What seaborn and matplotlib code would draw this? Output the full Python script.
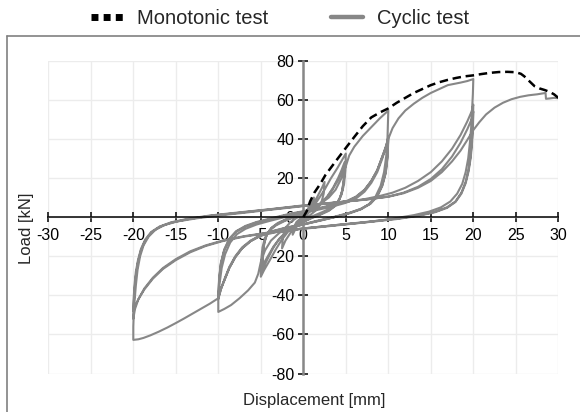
import matplotlib
matplotlib.use("Agg")
import matplotlib.pyplot as plt
from matplotlib.lines import Line2D
import seaborn as sns
import pandas as pd

# ---------------- data (displacement [mm], load [kN]) ----------------
monotonic = [(0, 0), (0.4, 3), (0.8, 8), (1.3, 12.5), (2.0, 17), (2.6, 21.5), (3.2, 25),
             (3.8, 28.5), (4.5, 32.5), (5.2, 36.5), (6.0, 41), (7.0, 46.5), (8.0, 51),
             (9.0, 53.5), (10, 55.6), (11, 58.5), (12, 61), (13, 63.5), (14, 65.5),
             (15, 67.5), (16, 69), (17, 70.2), (18, 71.2), (19, 72), (20, 72.5), (21, 73.2),
             (22, 73.8), (23, 74.2), (24, 74.3), (25, 74.1), (25.6, 73.3), (26.0, 72),
             (26.6, 69.5), (27.2, 67), (27.8, 65.8), (28.4, 65), (29.0, 64), (29.5, 62.8),
             (30, 61)]

cyc_small = [(0, 0), (0.4, 3), (0.8, 6.5), (1.25, 10), (1.15, 6), (0.8, 3), (0.3, 0.5),
             (-0.3, -1.5), (-0.8, -5), (-1.25, -9), (-1.15, -5.5), (-0.8, -2.5), (-0.3, -0.5),
             (0.3, 1.5), (0.9, 5), (1.6, 10), (2.2, 15), (2.5, 18), (2.4, 12), (2.1, 7),
             (1.5, 3.5), (0.8, 1), (0, -1.5), (-0.8, -4), (-1.5, -8), (-2.1, -12), (-2.5, -16),
             (-2.4, -10), (-2.1, -5.5), (-1.5, -2.5), (-0.8, -0.5), (0, 1.5)]

cyc_5 = [(0.8, 4), (1.6, 8), (2.5, 14), (3.2, 19.5), (4.0, 25), (4.6, 29.5), (5.0, 32.5),
         (4.95, 24), (4.8, 17), (4.5, 11.5), (4.0, 7.5), (3.2, 4.5), (2.2, 2.5), (1.0, 0.3),
         (0, -1.8), (-1.0, -4.2), (-1.8, -7.5), (-2.6, -12), (-3.3, -17), (-4.0, -22.5),
         (-4.6, -27), (-5.0, -30.5),
         (-4.95, -22), (-4.8, -15.5), (-4.5, -10.5), (-4.0, -7), (-3.2, -4.2), (-2.2, -2),
         (-1.0, 0), (0, 2),
         (1, 4.2), (2, 7), (2.8, 10.5), (3.5, 15), (4.1, 20), (4.5, 24), (4.85, 28),
         (4.8, 20), (4.6, 14), (4.3, 9.5), (3.8, 6), (3, 3.5), (2, 1.5), (1, -0.3), (0, -2.3),
         (-1, -4.5), (-2, -7.5), (-2.8, -11), (-3.5, -15.5), (-4.1, -20.5), (-4.5, -24),
         (-4.85, -27.5),
         (-4.8, -19.5), (-4.6, -13.5), (-4.3, -9), (-3.8, -5.8), (-3, -3.3), (-2, -1.3),
         (-1, 0.5), (0, 2.3),
         (1, 4.3), (2, 6.8), (2.8, 10), (3.5, 14.5), (4.1, 19), (4.5, 22.5), (4.8, 26),
         (4.75, 18.5), (4.55, 13), (4.25, 9), (3.7, 5.5), (3, 3.2), (2, 1.2), (1, -0.5),
         (0, -2.5), (-1, -4.6), (-2, -7.6), (-2.8, -11), (-3.5, -15), (-4.1, -19.5),
         (-4.5, -22.5), (-4.8, -25.5),
         (-4.75, -18), (-4.55, -12.5), (-4.25, -8.5), (-3.7, -5.3), (-3, -3), (-2, -1),
         (-1, 0.8), (0, 2.5)]

cyc_10 = [(1, 4.5), (2, 6.8), (3, 10), (3.8, 14), (4.5, 20), (5, 26), (5.4, 31.5), (6, 36),
          (7, 41.5), (8, 46), (9, 50.5), (10, 54.5),
          (9.95, 47), (9.9, 40), (9.75, 31), (9.5, 23), (9.1, 16), (8.5, 10.5), (7.7, 6.5),
          (6.7, 4), (5.5, 2.2), (4, 0.3), (2, -1.8), (0, -3.8), (-1.5, -5.5), (-2.8, -8),
          (-3.8, -12), (-4.5, -17), (-5, -23), (-5.3, -29), (-5.7, -33.5), (-6.5, -37.5),
          (-7.5, -41.5), (-8.5, -45), (-9.3, -47), (-10, -48.5),
          (-10, -42), (-9.85, -34), (-9.6, -26), (-9.2, -19), (-8.6, -13), (-7.8, -8.7),
          (-6.8, -6), (-5.5, -3.8), (-4, -2), (-2, 0.2), (0, 2.2), (2, 4), (3.5, 5.5),
          (5, 7.3), (6.2, 9.5), (7.2, 13), (8, 17.5), (8.7, 23), (9.3, 30), (9.7, 35.5),
          (10, 41),
          (9.9, 31), (9.7, 23), (9.3, 16.5), (8.7, 11), (7.9, 7), (6.8, 4.3), (5.5, 2.3),
          (3.5, 0), (1.5, -2), (0, -3.6), (-2, -5.3), (-3.5, -7), (-5, -9.3), (-6.2, -12),
          (-7.2, -15.5), (-8, -20), (-8.7, -25.5), (-9.3, -32), (-9.7, -37), (-10, -42),
          (-9.9, -32), (-9.7, -24), (-9.3, -17), (-8.7, -11.5), (-7.9, -7.5), (-6.8, -4.8),
          (-5.5, -2.8), (-3.5, -0.6), (-1.5, 1.5), (0, 2.8), (2, 4.5), (3.5, 6), (5, 7.8),
          (6.2, 10.2), (7.2, 13.8), (8, 18.5), (8.7, 24), (9.3, 31), (9.7, 35.5), (10, 39.5),
          (9.9, 30), (9.7, 22.5), (9.3, 16), (8.7, 10.5), (7.9, 6.8), (6.8, 4), (5.5, 2),
          (3.5, -0.2), (1.5, -2.2), (0, -3.8), (-2, -5.5), (-3.5, -7.2), (-5, -9.5),
          (-6.2, -12.3), (-7.2, -16), (-8, -20.5), (-8.7, -26), (-9.3, -32.5), (-9.7, -36.5),
          (-10, -40),
          (-9.9, -31), (-9.7, -23.5), (-9.3, -16.5), (-8.7, -11), (-7.9, -7.2), (-6.8, -4.5),
          (-5.5, -2.5), (-3.5, -0.3), (-1.5, 1.8), (0, 3)]

cyc_20 = [(2, 4.8), (3.5, 6.3), (5, 8), (6.2, 10.5), (7.2, 14), (8, 18.5), (8.7, 24),
          (9.3, 31), (9.7, 36), (10, 40), (10.5, 45.5), (11.2, 50.5), (12, 54.5), (13, 58),
          (14, 61), (15, 63.5), (16, 65.5), (17, 67.5), (17.6, 68), (18.5, 68.8),
          (19.3, 69.6), (20, 70.6),
          (19.95, 63), (19.85, 55), (19.75, 46), (19.6, 38), (19.4, 30), (19.1, 23),
          (18.7, 17), (18.1, 12), (17.3, 8), (16.2, 5), (14.8, 2.8), (13, 1), (10, -1.2),
          (7, -2.8), (4, -4), (0, -5.8), (-3, -7.5), (-5, -9.5), (-6.2, -12.3), (-7.2, -16),
          (-8, -20.5), (-8.7, -26), (-9.3, -32.5), (-9.7, -37), (-10, -41.5), (-11, -44.3),
          (-12, -46.8), (-13, -49.3), (-14, -51.8), (-15, -54.2), (-16, -56.5), (-17, -58.6),
          (-18, -60.5), (-18.8, -61.8), (-19.4, -62.5), (-20, -62.8),
          (-20, -56), (-19.95, -50), (-19.85, -43), (-19.7, -35), (-19.5, -27), (-19.2, -20),
          (-18.8, -14.5), (-18.2, -10), (-17.4, -6.5), (-16.3, -4), (-14.8, -2.2),
          (-12.5, -0.6), (-10, 0.8), (-7, 2.2), (-4, 3.7), (0, 5.6), (4, 7.5), (7, 9),
          (9, 10.8), (10.5, 12.5), (12, 15), (13.5, 18.5), (15, 23), (16.3, 28.5),
          (17.5, 35), (18.5, 42), (19.3, 49), (19.8, 54), (20, 57.5),
          (19.95, 48), (19.85, 40), (19.7, 32), (19.45, 24.5), (19.1, 18), (18.6, 12.5),
          (17.9, 8), (16.9, 5), (15.5, 2.7), (13.5, 0.8), (11, -0.8), (8, -2.2), (4, -4),
          (0, -5.8), (-4, -7.8), (-7, -9.8), (-9.5, -12), (-11.5, -14.5), (-13.3, -17.5),
          (-15, -21.5), (-16.5, -26), (-17.7, -31), (-18.7, -36.5), (-19.4, -42),
          (-19.8, -47), (-20, -52),
          (-19.95, -44), (-19.85, -37), (-19.7, -30), (-19.45, -23), (-19.1, -17),
          (-18.6, -12), (-17.9, -8), (-16.9, -5), (-15.5, -2.8), (-13.5, -1), (-11, 0.6),
          (-8, 2), (-4, 3.9), (0, 5.8), (4, 7.5), (7.5, 9), (10, 10.5), (11.8, 12.5),
          (13.5, 15.5), (15, 19.5), (16.3, 24.5), (17.5, 31), (18.5, 38), (19.3, 45),
          (19.8, 50), (20, 54),
          (19.95, 45), (19.85, 38), (19.7, 30.5), (19.45, 23.5), (19.1, 17.3), (18.6, 12),
          (17.9, 7.7), (16.9, 4.7), (15.5, 2.5), (13.5, 0.6), (11, -1), (8, -2.4), (4, -4.2),
          (0, -6), (-4, -8), (-7, -10), (-9.5, -12.3), (-11.5, -14.8), (-13.3, -18),
          (-15, -22), (-16.5, -26.5), (-17.7, -31.5), (-18.7, -37), (-19.4, -42),
          (-19.8, -45.5), (-20, -48),
          (-19.95, -41), (-19.85, -34.5), (-19.7, -28), (-19.45, -22), (-19.1, -16.3),
          (-18.6, -11.5), (-17.9, -7.6), (-16.9, -4.8), (-15.5, -2.6), (-13.5, -0.8),
          (-11, 0.8), (-8, 2.2), (-4, 4), (0, 6)]

cyc_30 = [(4, 7.6), (7.5, 9.1), (10, 10.4), (11.8, 12.2), (13.5, 15), (15, 18.5),
          (16.3, 23), (17.5, 28.5), (18.5, 34), (19.3, 39.5), (20, 44.5), (20.7, 48.5),
          (21.5, 52.5), (22.5, 56), (23.5, 58.5), (24.5, 60.3), (25.5, 61.5), (26.5, 62.3),
          (27.5, 62.8), (28.5, 63.5), (28.55, 60.5), (29, 60.7), (29.5, 61), (30, 60.8)]

x_ticks = list(range(-30, 31, 5))
y_ticks = list(range(-80, 81, 20))
legend_labels = ["Monotonic test", "Cyclic test"]
axis_labels = ["Displacement [mm]", "Load [kN]"]

# ---------------- frames ----------------
df_mono = pd.DataFrame(monotonic, columns=["disp", "load"])
df_cyc = pd.DataFrame(cyc_small + cyc_5 + cyc_10 + cyc_20 + cyc_30, columns=["disp", "load"])

# ---------------- style ----------------
sns.set_theme(style="white")
plt.rcParams["font.family"] = ["Liberation Sans", "DejaVu Sans"]
plt.rcParams["axes.unicode_minus"] = False

W, H = 580, 412
fig = plt.figure(figsize=(W / 100, H / 100), dpi=100)
fig.patch.set_facecolor("white")
left_px, right_px, top_px, bot_px = 48.3, 558.3, 60.7, 373.5
ax = fig.add_axes([left_px / W, 1 - bot_px / H, (right_px - left_px) / W, (bot_px - top_px) / H])
ax.set_facecolor("white")

CYC = "#878787"
sns.lineplot(data=df_cyc, x="disp", y="load", sort=False, estimator=None, ax=ax,
             color=CYC, lw=1.5, legend=False, zorder=2)
sns.lineplot(data=df_mono, x="disp", y="load", sort=False, estimator=None, ax=ax,
             color="black", lw=1.8, linestyle=(0, (3.4, 1.9)), legend=False, zorder=3)

ax.set_xlim(-30, 30)
ax.set_ylim(-80, 80)
ax.set_xticks(x_ticks)
ax.set_yticks(y_ticks)
ax.set_xticklabels([str(t) for t in x_ticks])
ax.set_yticklabels([str(t) for t in y_ticks])
ax.grid(True, color="#ececec", lw=1)
ax.set_axisbelow(True)
ax.set_xlabel("")
ax.set_ylabel("")

for s in ["top", "right"]:
    ax.spines[s].set_visible(False)
ax.spines["left"].set_position(("data", 0))
ax.spines["bottom"].set_position(("data", 0))
ax.spines["left"].set_color("#888888")
ax.spines["left"].set_linewidth(1.8)
ax.spines["bottom"].set_color("black")
ax.spines["bottom"].set_linewidth(1.1)

ax.tick_params(axis="x", direction="inout", length=7, width=1.1, color="black",
               labelsize=11.5, labelcolor="black", pad=4, bottom=True)
ax.tick_params(axis="y", direction="inout", length=7, width=1.1, color="black",
               labelsize=11.5, labelcolor="black", pad=3, left=True)

fig.text(314 / W, 1 - 401 / H, axis_labels[0], ha="center", va="center", fontsize=12)
fig.text(27 / W, 1 - 228 / H, axis_labels[1], ha="center", va="center", fontsize=12,
         rotation=90)

# outer chart frame (top and left edges visible)
fig.add_artist(Line2D([7.4 / W, 7.4 / W], [0, 1 - 36 / H], transform=fig.transFigure,
                      color="#808080", lw=1.2))
fig.add_artist(Line2D([7.4 / W, 1], [1 - 36 / H, 1 - 36 / H], transform=fig.transFigure,
                      color="#808080", lw=1.2))

h1 = Line2D([], [], color="black", lw=5, linestyle=(0, (1, 0.75)), dash_capstyle="butt")
h2 = Line2D([], [], color=CYC, lw=3.2)
fig.legend([h1, h2], legend_labels, loc="center", bbox_to_anchor=(280 / W, 1 - 19 / H),
           ncol=2, frameon=False, fontsize=14.5, handlelength=1.6, handletextpad=0.7,
           columnspacing=3.1)

fig.savefig("out.png", dpi=100, facecolor="white")
